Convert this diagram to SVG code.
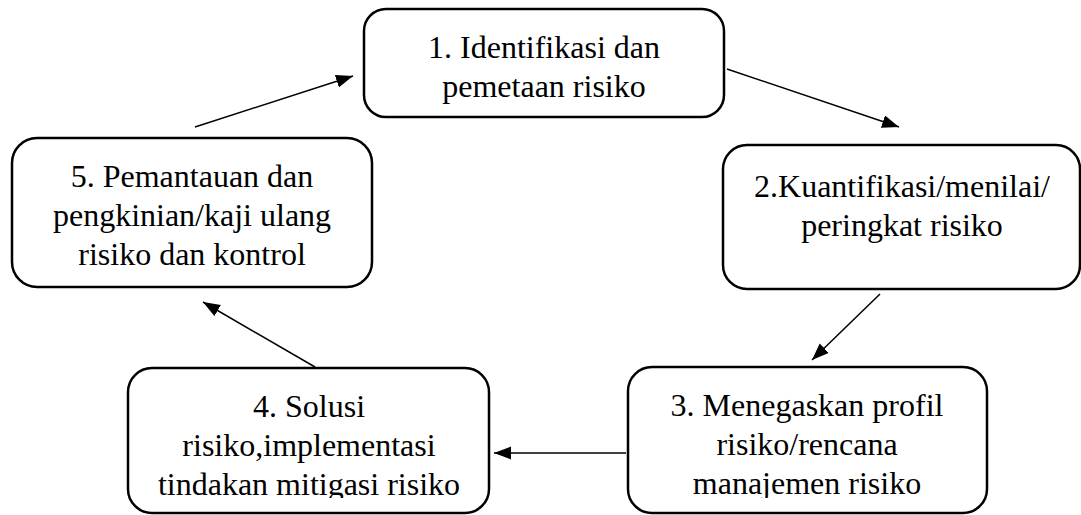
<svg xmlns="http://www.w3.org/2000/svg" width="1081" height="515" viewBox="0 0 1081 515">
<style>
.box{fill:#fff;stroke:#000;stroke-width:2.5}
.lbl{font-family:"Liberation Serif","Times New Roman",serif;font-size:32px;fill:#000;text-anchor:middle}
.conn{stroke:#000;stroke-width:1.5;fill:none;marker-end:url(#ah)}
</style>
<defs>
<marker id="ah" markerUnits="userSpaceOnUse" markerWidth="18" markerHeight="14" refX="17" refY="6.5" orient="auto">
<path d="M0,0 L17,6.5 L0,13 Z" fill="#000"/>
</marker>
<clipPath id="cut"><rect x="0" y="0" width="1081" height="498"/></clipPath>
</defs>
<rect width="1081" height="515" fill="#fff"/>
<g id="connectors">
<line class="conn" x1="195" y1="127" x2="353" y2="76"/>
<line class="conn" x1="727" y1="69" x2="899" y2="127"/>
<line class="conn" x1="880" y1="294" x2="812" y2="360"/>
<line class="conn" x1="626" y1="453" x2="494" y2="453"/>
<line class="conn" x1="315" y1="367" x2="203" y2="302"/>
</g>
<g id="node1">
<rect class="box" x="364" y="9" width="360" height="108" rx="22"/>
<text class="lbl" x="544" y="58">1. Identifikasi dan</text>
<text class="lbl" x="544" y="97">pemetaan risiko</text>
</g>
<g id="node2">
<rect class="box" x="723" y="145" width="357" height="144" rx="24"/>
<text class="lbl" x="902" y="197">2.Kuantifikasi/menilai/</text>
<text class="lbl" x="902" y="236">peringkat risiko</text>
</g>
<g id="node3">
<rect class="box" x="628" y="367" width="359" height="146" rx="24"/>
<g clip-path="url(#cut)">
<text class="lbl" x="807" y="416">3. Menegaskan profil</text>
<text class="lbl" x="807" y="455">risiko/rencana</text>
<text class="lbl" x="807" y="494">manajemen risiko</text>
</g>
</g>
<g id="node4">
<rect class="box" x="128" y="368" width="361" height="145" rx="24"/>
<g clip-path="url(#cut)">
<text class="lbl" x="309" y="417">4. Solusi</text>
<text class="lbl" x="309" y="456">risiko,implementasi</text>
<text class="lbl" x="309" y="495">tindakan mitigasi risiko</text>
</g>
</g>
<g id="node5">
<rect class="box" x="12" y="138" width="360" height="149" rx="25"/>
<text class="lbl" x="192" y="187">5. Pemantauan dan</text>
<text class="lbl" x="192" y="226">pengkinian/kaji ulang</text>
<text class="lbl" x="192" y="265">risiko dan kontrol</text>
</g>
</svg>
